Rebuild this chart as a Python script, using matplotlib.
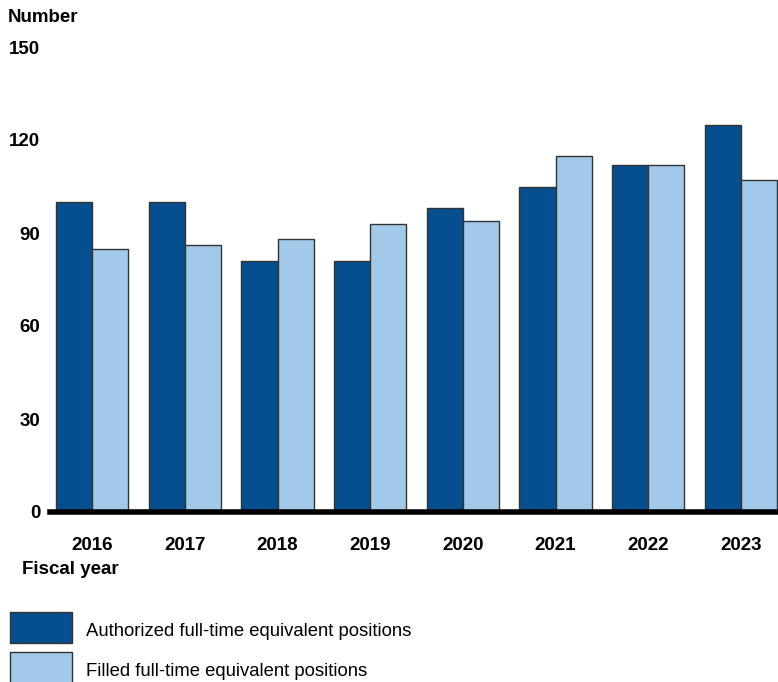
import matplotlib
matplotlib.use("Agg")
import matplotlib.pyplot as plt
import numpy as np
from matplotlib.patches import Rectangle

plt.rcParams['font.family'] = ['Liberation Sans', 'DejaVu Sans']

years = ["2016", "2017", "2018", "2019", "2020", "2021", "2022", "2023"]
authorized = [100, 100, 81, 81, 98, 105, 112, 125]
filled = [85, 86, 88, 93, 94, 115, 112, 107]
yticks = [0, 30, 60, 90, 120, 150]

dark = "#054f8f"
light = "#a1c9ea"
edge = "#333333"

W, H = 778, 682
fig = plt.figure(figsize=(W / 100, H / 100), dpi=100)
ax = fig.add_axes([50 / W, 1 - 512 / H, (778 - 50) / W, (512 - 47) / H])

x = np.arange(len(years))
bw = 0.39
ax.bar(x - bw / 2, authorized, bw, color=dark, edgecolor=edge, linewidth=1, zorder=2)
ax.bar(x + bw / 2, filled, bw, color=light, edgecolor=edge, linewidth=1, zorder=2)

fs = 13.5
ax.set_xlim(-0.455, 7.4)
ax.set_ylim(0, 150)
ax.set_yticks(yticks)
ax.set_yticklabels([str(v) for v in yticks], fontsize=fs, fontweight='bold')
ax.set_xticks(x)
ax.set_xticklabels(years, fontsize=fs, fontweight='bold')
ax.tick_params(axis='both', length=0)
ax.tick_params(axis='x', pad=18)
ax.tick_params(axis='y', pad=7)
for s in ['top', 'right', 'left']:
    ax.spines[s].set_visible(False)
ax.spines['bottom'].set_linewidth(4)
ax.spines['bottom'].set_color('black')
ax.spines['bottom'].set_zorder(3)

fig.text(8 / W, 1 - 17 / H, "Number", fontsize=fs, fontweight='bold', va='center', ha='left')
fig.text(22 / W, 1 - 570 / H, "Fiscal year", fontsize=fs, fontweight='bold', va='center', ha='left')

# legend
for i, (c, lab) in enumerate([(dark, "Authorized full-time equivalent positions"),
                              (light, "Filled full-time equivalent positions")]):
    top = 612 + i * 40
    fig.patches.append(Rectangle((10 / W, 1 - (top + 31) / H), 62 / W, 31 / H,
                                 transform=fig.transFigure, facecolor=c,
                                 edgecolor=edge, linewidth=1))
    fig.text(86 / W, 1 - (top + 19) / H, lab, fontsize=13.3, va='center', ha='left')

fig.savefig("out.png", dpi=100)
